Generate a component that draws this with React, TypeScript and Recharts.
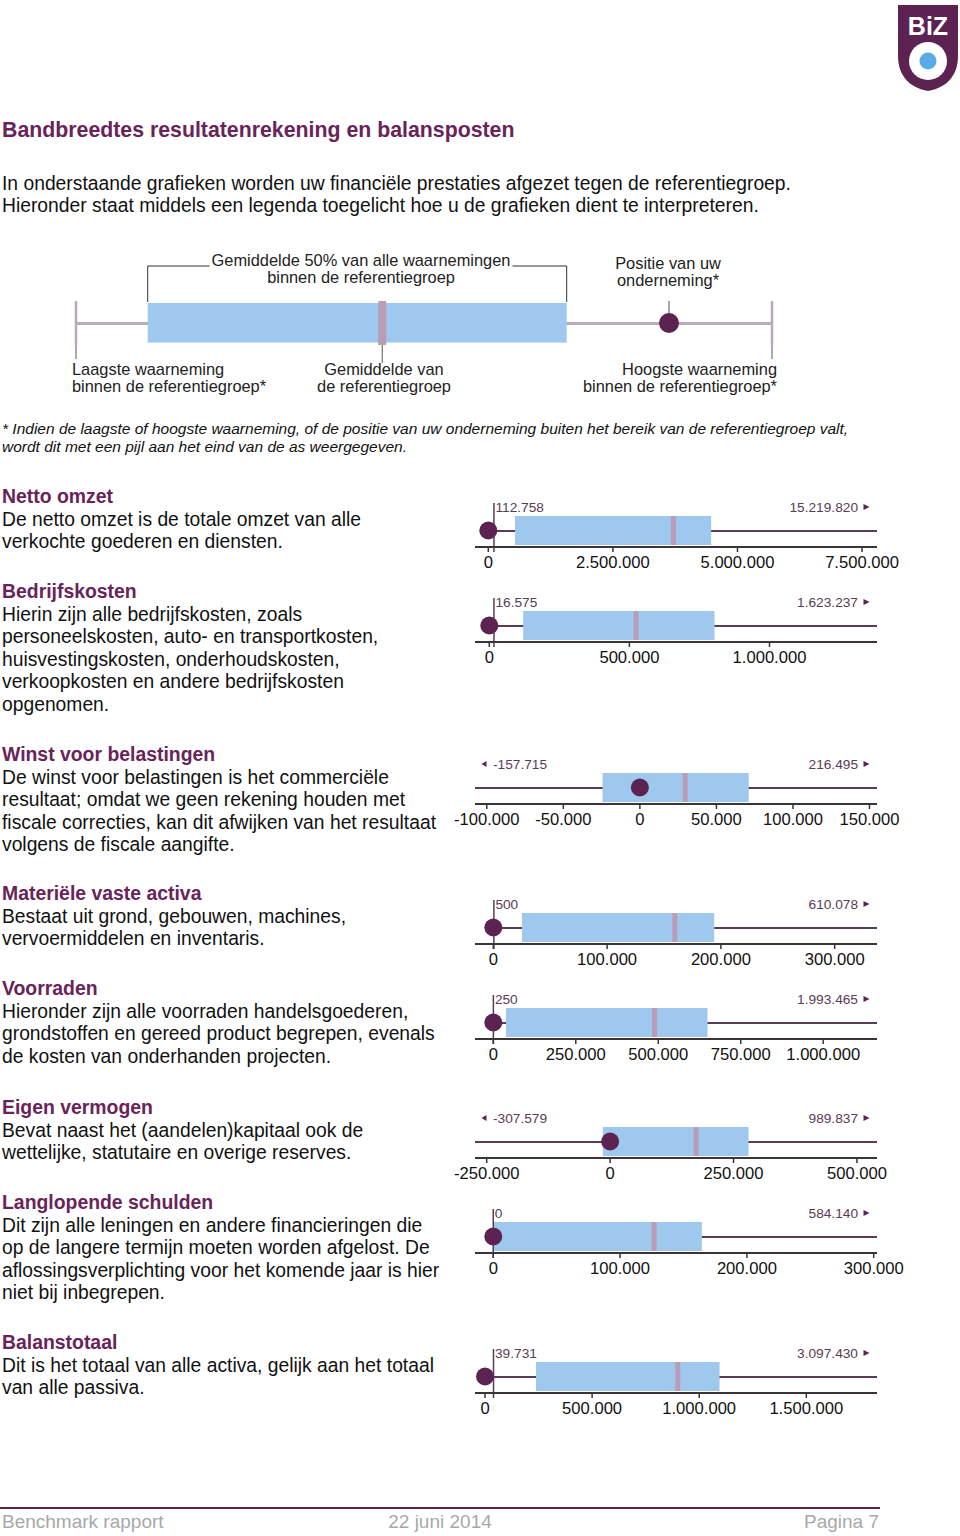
import React from "react";
import { Bar, ComposedChart, ReferenceLine, Scatter, XAxis, YAxis } from "recharts";

const metrics = [
  "Netto omzet",
  "Bedrijfskosten",
  "Winst voor belastingen",
  "Materiële vaste activa",
  "Voorraden",
  "Eigen vermogen",
  "Langlopende schulden",
  "Balanstotaal",
];
const lowest = [112758, 16575, -157715, 500, 250, -307579, 0, 39731];
const highest = [15219820, 1623237, 216495, 610078, 1993465, 989837, 584140, 3097430];
const lowerQuartile = [536000, 121000, -24400, 25200, 38500, -14800, 0, 238000];
const upperQuartile = [4472000, 803600, 71100, 194100, 649300, 280400, 164500, 1095000];
const means = [3715000, 524000, 29600, 159500, 488500, 174300, 126800, 900000];
const positions = [0, 0, 0, 0, 0, 0, 0, 0];
const axisFrom = [-267000, -51000, -107700, -16100, -55500, -273700, -14400, -46700];
const axisTo = [7800000, 1383600, 154900, 337200, 1163000, 540600, 302600, 1830000];
const tickValues = [
  [0, 2500000, 5000000, 7500000],
  [0, 500000, 1000000],
  [-100000, -50000, 0, 50000, 100000, 150000],
  [0, 100000, 200000, 300000],
  [0, 250000, 500000, 750000, 1000000],
  [-250000, 0, 250000, 500000],
  [0, 100000, 200000, 300000],
  [0, 500000, 1000000, 1500000],
];

// legend example: lowest, q1, mean, q3, position, highest (0-100)
const legendKeys = ["low", "q1", "mean", "q3", "pos", "high"];
const legendValues = [0, 10.3, 44, 70.5, 85.2, 100];

const descriptions = [
  ["De netto omzet is de totale omzet van alle", "verkochte goederen en diensten."],
  [
    "Hierin zijn alle bedrijfskosten, zoals",
    "personeelskosten, auto- en transportkosten,",
    "huisvestingskosten, onderhoudskosten,",
    "verkoopkosten en andere bedrijfskosten",
    "opgenomen.",
  ],
  [
    "De winst voor belastingen is het commerciële",
    "resultaat; omdat we geen rekening houden met",
    "fiscale correcties, kan dit afwijken van het resultaat",
    "volgens de fiscale aangifte.",
  ],
  ["Bestaat uit grond, gebouwen, machines,", "vervoermiddelen en inventaris."],
  [
    "Hieronder zijn alle voorraden handelsgoederen,",
    "grondstoffen en gereed product begrepen, evenals",
    "de kosten van onderhanden projecten.",
  ],
  ["Bevat naast het (aandelen)kapitaal ook de", "wettelijke, statutaire en overige reserves."],
  [
    "Dit zijn alle leningen en andere financieringen die",
    "op de langere termijn moeten worden afgelost. De",
    "aflossingsverplichting voor het komende jaar is hier",
    "niet bij inbegrepen.",
  ],
  ["Dit is het totaal van alle activa, gelijk aan het totaal", "van alle passiva."],
];

// layout
const headingY = [496, 591, 754, 893, 988, 1107, 1202, 1342];
const chartAxisY = [547, 642, 804, 944, 1039, 1158, 1253, 1393];

const PURPLE = "#5c2352";
const TITLE = "#6a2359";
const BLUE = "#9ec8ee";
const MEAN = "#b99db6";
const LINE = "#5a3c55";
const FONT = "'Liberation Sans', Arial, Helvetica, sans-serif";

const fmt = (v: number) => {
  const s = Math.round(Math.abs(v))
    .toString()
    .replace(/\B(?=(\d{3})+(?!\d))/g, ".");
  return (v < 0 ? "-" : "") + s;
};

const PositionDot = (props: any) => {
  const { cx, cy } = props;
  return <circle cx={cx} cy={cy} r={9} fill={PURPLE} />;
};

const MeanMark = (props: any) => {
  const { cx, cy } = props;
  return <rect x={cx - 2.5} y={cy - 14.5} width={5} height={29} fill={MEAN} />;
};

function MinLabel({ viewBox, value, out }: any) {
  const { x, y, height } = viewBox;
  if (out) {
    return (
      <g>
        <path d={`M${x + 6.5},${y - 7} L${x + 11.5},${y - 10} L${x + 11.5},${y - 4} Z`} fill={PURPLE} />
        <text x={x + 18} y={y - 2.5} fontSize={13.7} fill={LINE}>
          {fmt(value)}
        </text>
      </g>
    );
  }
  return (
    <g>
      <line x1={x} x2={x} y1={y - 11} y2={y + height + 5} stroke={LINE} strokeWidth={1.5} />
      <text x={x + 1.5} y={y - 2.5} fontSize={13.7} fill={LINE}>
        {fmt(value)}
      </text>
    </g>
  );
}

function MaxLabel({ viewBox, value }: any) {
  const { x, y } = viewBox;
  return (
    <g>
      <text x={x - 19} y={y - 2.5} fontSize={13.7} fill={LINE} textAnchor="end">
        {fmt(value)}
      </text>
      <path d={`M${x - 13.5},${y - 10} L${x - 7.5},${y - 7} L${x - 13.5},${y - 4} Z`} fill={PURPLE} />
    </g>
  );
}

function BoxChart({ i }: { i: number }) {
  const d0 = axisFrom[i];
  const d1 = axisTo[i];
  const clamp = (v: number) => Math.min(Math.max(v, d0), d1);
  const row = [
    {
      name: metrics[i],
      whisker: [clamp(lowest[i]), clamp(highest[i])],
      box: [lowerQuartile[i], upperQuartile[i]],
      mean: means[i],
      pos: positions[i],
    },
  ];
  return (
    <div style={{ position: "absolute", left: 450, top: chartAxisY[i] - 50 }}>
      <ComposedChart
        width={460}
        height={80}
        layout="vertical"
        data={row}
        margin={{ top: 17, right: 33, bottom: 0, left: 25 }}
      >
        <XAxis
          type="number"
          domain={[d0, d1]}
          ticks={tickValues[i]}
          allowDataOverflow
          interval={0}
          tickFormatter={fmt}
          height={30}
          tickSize={5}
          tickMargin={4}
          axisLine={{ stroke: "#3b3338", strokeWidth: 2 }}
          tickLine={{ stroke: "#3b3338", strokeWidth: 1.5 }}
          tick={{ fill: "#111", fontSize: 16.6 }}
        />
        <YAxis yAxisId="w" type="category" dataKey="name" hide />
        <YAxis yAxisId="b" type="category" dataKey="name" hide />
        <Bar yAxisId="w" dataKey="whisker" barSize={2} fill={LINE} isAnimationActive={false} />
        <Bar yAxisId="b" dataKey="box" barSize={29} fill={BLUE} isAnimationActive={false} />
        <ReferenceLine
          yAxisId="b"
          x={clamp(lowest[i])}
          stroke="none"
          label={<MinLabel value={lowest[i]} out={lowest[i] < d0} />}
        />
        <ReferenceLine yAxisId="b" x={d1} stroke="none" label={<MaxLabel value={highest[i]} />} />
        <Scatter yAxisId="b" dataKey="mean" shape={MeanMark} isAnimationActive={false} />
        <Scatter yAxisId="b" dataKey="pos" shape={PositionDot} isAnimationActive={false} />
      </ComposedChart>
    </div>
  );
}

const LegendBox = (props: any) => {
  const { x, y, width, height } = props;
  return (
    <g>
      <rect x={x} y={y} width={width} height={height} fill={BLUE} />
      <path d={`M${x},${y - 1} V${y - 37} H${x + width} V${y - 1}`} stroke="#333" strokeWidth={1} fill="none" />
    </g>
  );
};

const LegendCap = (props: any) => {
  const { cx, cy } = props;
  return (
    <g>
      <line x1={cx} x2={cx} y1={cy - 22} y2={cy + 22} stroke="#b9a8b8" strokeWidth={2.5} />
      <line x1={cx} x2={cx} y1={cy + 22} y2={cy + 36} stroke="#555" strokeWidth={1} />
    </g>
  );
};

const LegendMean = (props: any) => {
  const { cx, cy } = props;
  return (
    <g>
      <rect x={cx - 4} y={cy - 22} width={8} height={44} fill={MEAN} />
      <line x1={cx} x2={cx} y1={cy + 22} y2={cy + 40} stroke="#555" strokeWidth={1} />
    </g>
  );
};

const LegendDot = (props: any) => {
  const { cx, cy } = props;
  return (
    <g>
      <line x1={cx} x2={cx} y1={cy - 22} y2={cy - 9} stroke="#555" strokeWidth={1} />
      <circle cx={cx} cy={cy} r={10} fill={PURPLE} />
    </g>
  );
};

function LegendChart() {
  const v: any = {};
  legendKeys.forEach((k, j) => (v[k] = legendValues[j]));
  const row = [
    { name: "legenda", whisker: [v.low, v.high], box: [v.q1, v.q3], mean: v.mean, pos: v.pos, low: v.low, high: v.high },
  ];
  return (
    <div style={{ position: "absolute", left: 60, top: 240 }}>
      <ComposedChart
        width={730}
        height={170}
        layout="vertical"
        data={row}
        margin={{ top: 61, right: 18, bottom: 65, left: 16 }}
      >
        <XAxis type="number" domain={[0, 100]} hide />
        <YAxis yAxisId="w" type="category" dataKey="name" hide />
        <YAxis yAxisId="b" type="category" dataKey="name" hide />
        <Bar yAxisId="w" dataKey="whisker" barSize={3} fill="#bcaabb" isAnimationActive={false} />
        <Bar yAxisId="b" dataKey="box" barSize={44} shape={LegendBox} isAnimationActive={false} />
        <Scatter yAxisId="b" dataKey="low" shape={LegendCap} isAnimationActive={false} />
        <Scatter yAxisId="b" dataKey="high" shape={LegendCap} isAnimationActive={false} />
        <Scatter yAxisId="b" dataKey="mean" shape={LegendMean} isAnimationActive={false} />
        <Scatter yAxisId="b" dataKey="pos" shape={LegendDot} isAnimationActive={false} />
      </ComposedChart>
    </div>
  );
}

const abs = (left: number, top: number, extra: any = {}): any => ({
  position: "absolute",
  left,
  top,
  whiteSpace: "nowrap",
  ...extra,
});

function LegendText({ x, y, lines, align, white }: any) {
  const shift = align === "center" ? "translateX(-50%)" : align === "right" ? "translateX(-100%)" : "none";
  return (
    <div style={abs(x, y - 8.5, { transform: shift, textAlign: align, fontSize: 16.4, lineHeight: "17px", color: "#222" })}>
      <span style={{ background: white ? "#fff" : "transparent", padding: white ? "0 2px" : 0 }}>{lines[0]}</span>
      <br />
      {lines[1]}
    </div>
  );
}

function Logo() {
  return (
    <svg style={{ position: "absolute", left: 896, top: 4 }} width={64} height={90}>
      <path d="M2,1 H62 V52 C62,72 50,84 32,87 C14,84 2,72 2,52 Z" fill={PURPLE} />
      <text x={32} y={31} textAnchor="middle" fill="#fff" fontSize={25} fontWeight="bold" fontFamily={FONT}>
        BiZ
      </text>
      <circle cx={32} cy={57} r={19} fill="#fff" />
      <circle cx={32} cy={57} r={8.5} fill="#5aaae6" />
    </svg>
  );
}

export default function App() {
  return (
    <div
      style={{
        position: "absolute",
        left: 0,
        top: 0,
        width: 960,
        height: 1536,
        background: "#fff",
        fontFamily: FONT,
        color: "#111",
        overflow: "hidden",
      }}
    >
      <Logo />
      <div style={abs(2, 117, { fontSize: 21.3, fontWeight: "bold", color: TITLE, lineHeight: "26px" })}>
        Bandbreedtes resultatenrekening en balansposten
      </div>
      <div style={abs(2, 172.5, { fontSize: 19.3, lineHeight: "22.5px" })}>
        In onderstaande grafieken worden uw financiële prestaties afgezet tegen de referentiegroep.
        <br />
        Hieronder staat middels een legenda toegelicht hoe u de grafieken dient te interpreteren.
      </div>

      <LegendChart />
      <LegendText x={361} y={260} align="center" white lines={["Gemiddelde 50% van alle waarnemingen", "binnen de referentiegroep"]} />
      <LegendText x={668} y={263} align="center" lines={["Positie van uw", "onderneming*"]} />
      <LegendText x={72} y={369} align="left" lines={["Laagste waarneming", "binnen de referentiegroep*"]} />
      <LegendText x={384} y={369} align="center" lines={["Gemiddelde van", "de referentiegroep"]} />
      <LegendText x={777} y={369} align="right" lines={["Hoogste waarneming", "binnen de referentiegroep*"]} />

      <div style={abs(2, 420, { fontSize: 15.5, fontStyle: "italic", lineHeight: "17.5px" })}>
        * Indien de laagste of hoogste waarneming, of de positie van uw onderneming buiten het bereik van de referentiegroep valt,
        <br />
        wordt dit met een pijl aan het eind van de as weergegeven.
      </div>

      {metrics.map((m, i) => (
        <div key={m} style={abs(2, headingY[i] - 12, { fontSize: 19.3, lineHeight: "22.6px" })}>
          <div style={{ fontWeight: "bold", color: TITLE, fontSize: 19.4, lineHeight: "24.5px" }}>{m}</div>
          {descriptions[i].map((l) => (
            <div key={l}>{l}</div>
          ))}
        </div>
      ))}

      {metrics.map((m, i) => (
        <BoxChart key={m} i={i} />
      ))}

      <div style={{ position: "absolute", left: 0, top: 1507, width: 880, height: 2, background: PURPLE }} />
      <div style={abs(2, 1511, { fontSize: 19, lineHeight: "22px", color: "#a8a8a8" })}>Benchmark rapport</div>
      <div style={abs(440, 1511, { fontSize: 19, lineHeight: "22px", color: "#a8a8a8", transform: "translateX(-50%)" })}>
        22 juni 2014
      </div>
      <div style={abs(879, 1511, { fontSize: 19, lineHeight: "22px", color: "#a8a8a8", transform: "translateX(-100%)" })}>
        Pagina 7
      </div>
    </div>
  );
}
